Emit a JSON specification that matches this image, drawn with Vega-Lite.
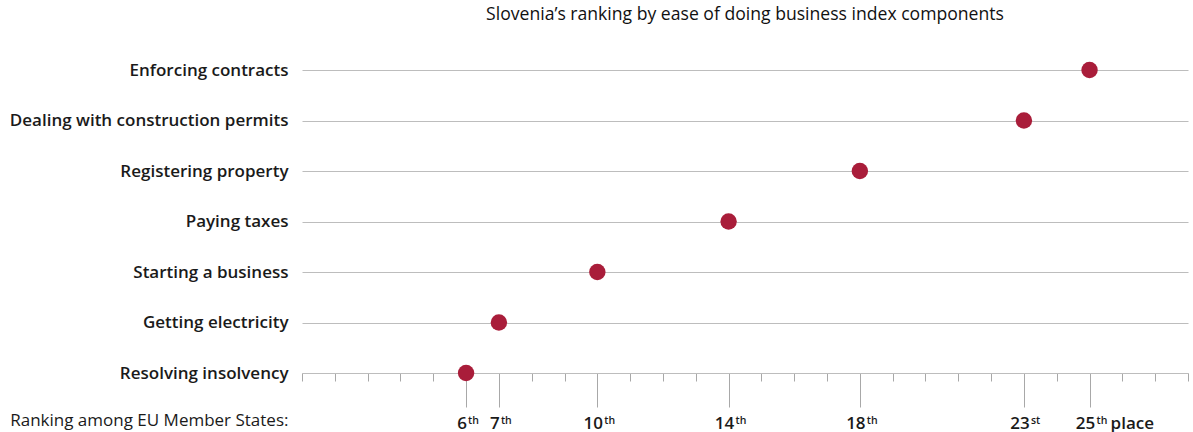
{
  "$schema": "https://vega.github.io/schema/vega-lite/v6.json",
  "width": 886,
  "height": 303,
  "autosize": {"type": "none"},
  "padding": {"left": 302, "top": 70, "right": 5, "bottom": 59},
  "background": "white",
  "title": {"text": "Slovenia’s ranking by ease of doing business index components", "font": "Open Sans", "fontSize": 17.6, "fontWeight": "normal", "color": "#111111", "anchor": "middle", "offset": 37},
  "config": {"view": {"stroke": null}, "font": "Open Sans"},
  "data": {"values": [
    {"component": "Enforcing contracts", "rank": 25},
    {"component": "Dealing with construction permits", "rank": 23},
    {"component": "Registering property", "rank": 18},
    {"component": "Paying taxes", "rank": 14},
    {"component": "Starting a business", "rank": 10},
    {"component": "Getting electricity", "rank": 7},
    {"component": "Resolving insolvency", "rank": 6}
  ]},
  "encoding": {
    "y": {"field": "component", "type": "nominal", "sort": null, "scale": {"type": "point", "padding": 0},
      "axis": {"title": null, "grid": true, "gridColor": "#bdbdbd", "gridWidth": 1, "domain": false, "ticks": false, "labelFont": "Open Sans", "labelFontSize": 17, "labelFontWeight": 600, "labelColor": "#1a1a1a", "labelPadding": 14, "labelLimit": 0}}
  },
  "layer": [
    {
      "mark": {"type": "point", "opacity": 0},
      "encoding": {"x": {"field": "rank", "type": "quantitative", "scale": {"domain": [1, 28], "nice": false, "zero": false},
        "axis": {"orient": "bottom", "values": [6, 7, 10, 14, 18, 23, 25], "tickSize": 34, "tickColor": "#a8a8a8", "domain": false, "grid": false, "labelOverlap": false, "labelFlush": false, "labelFont": "Open Sans", "labelFontSize": 17, "labelFontWeight": 600, "labelColor": "#1a1a1a", "labelAlign": "center", "labelOffset": -4.5, "labelPadding": 8,
          "title": "Ranking among EU Member States:", "titleFont": "Open Sans", "titleFontSize": 17, "titleFontWeight": "normal", "titleColor": "#1a1a1a", "titleAnchor": "start", "titleAlign": "right", "titleX": -14, "titleY": 52, "titleBaseline": "alphabetic"}}}
    },
    {
      "mark": {"type": "point", "opacity": 0},
      "encoding": {"x": {"field": "rank", "type": "quantitative", "scale": {"domain": [1, 28], "nice": false, "zero": false},
        "axis": {"orient": "bottom", "values": [6, 7, 10, 14, 18, 23, 25], "tickSize": 34, "tickOpacity": 0, "domain": false, "grid": false, "title": null, "labelOverlap": false, "labelFlush": false, "labelExpr": "datum.value == 23 ? 'st' : 'th'", "labelFont": "Open Sans", "labelFontSize": 10.5, "labelFontWeight": 600, "labelColor": "#1a1a1a", "labelAlign": "left", "labelOffset": {"condition": {"test": "datum.value < 10", "value": 1.5}, "value": 6.5}, "labelPadding": 8}}}
    },
    {
      "mark": {"type": "point", "opacity": 0},
      "encoding": {"x": {"field": "rank", "type": "quantitative", "scale": {"domain": [1, 28], "nice": false, "zero": false},
        "axis": {"orient": "bottom", "values": [25], "tickSize": 34, "tickOpacity": 0, "domain": false, "grid": false, "title": null, "labelOverlap": false, "labelFlush": false, "labelExpr": "'place'", "labelFont": "Open Sans", "labelFontSize": 17, "labelFontWeight": 600, "labelColor": "#1a1a1a", "labelAlign": "left", "labelOffset": 20.5, "labelPadding": 8}}}
    },
    {
      "mark": {"type": "circle", "size": 270, "color": "#a91d3a", "opacity": 1},
      "encoding": {"x": {"field": "rank", "type": "quantitative", "scale": {"domain": [1, 28], "nice": false, "zero": false},
        "axis": {"orient": "bottom", "values": [1, 2, 3, 4, 5, 6, 7, 8, 9, 10, 11, 12, 13, 14, 15, 16, 17, 18, 19, 20, 21, 22, 23, 24, 25, 26, 27, 28], "tickSize": 8, "tickColor": "#a8a8a8", "domainColor": "#bdbdbd", "labels": false, "title": null, "grid": false}}}
    }
  ],
  "resolve": {"axis": {"x": "independent"}}
}
